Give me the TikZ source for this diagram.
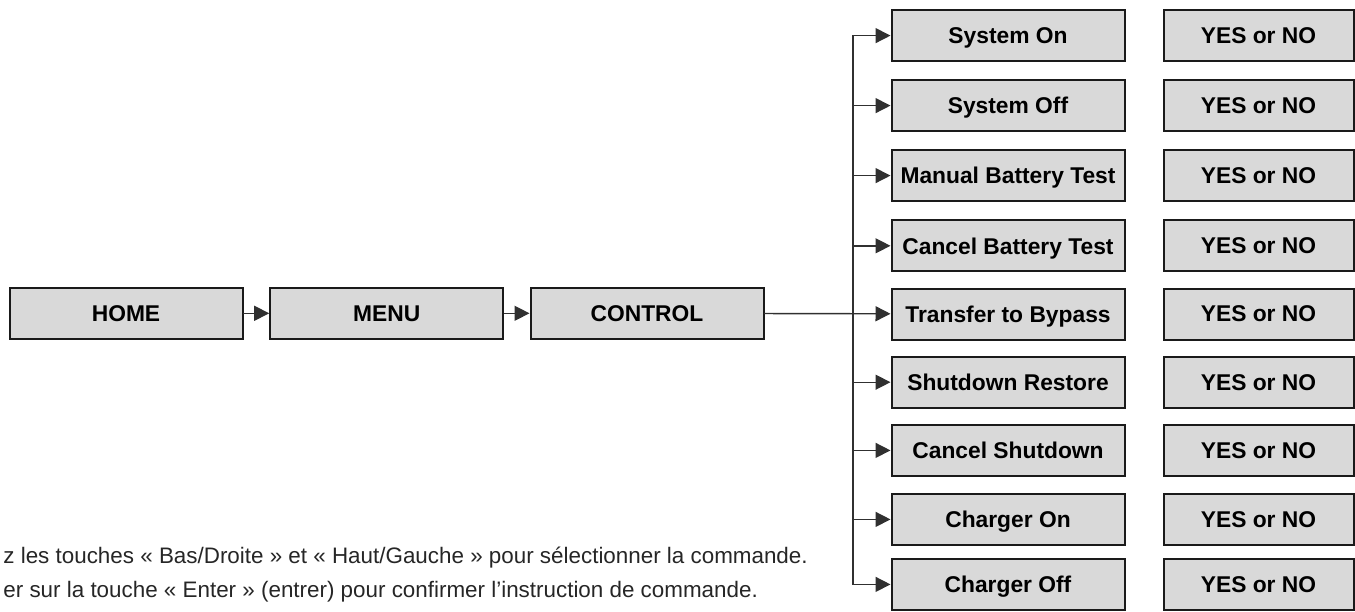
\documentclass[tikz,border=0pt]{standalone}
\usepackage{fontspec}
\setmainfont{Liberation Sans}
\usepackage{tikz}
\usetikzlibrary{arrows.meta, positioning}
\definecolor{boxgray}{HTML}{D9D9D9}
\definecolor{edgegray}{HTML}{1A1A1A}
\definecolor{wiregray}{HTML}{303030}
\tikzset{
  mbox/.style={rectangle, draw=edgegray, fill=boxgray, line width=1pt,
               minimum width=116.5pt, minimum height=25.5pt, inner sep=0pt,
               text depth=0pt, font=\fontsize{11.4}{13}\selectfont\bfseries},
  abox/.style={mbox, minimum width=95pt},
  note/.style={inner sep=0pt, font=\fontsize{11.2}{13}\selectfont, text=black!85},
  arr/.style={-{Triangle[length=7.5pt, width=7.5pt]}, line width=0.7pt,
              line cap=rect, draw=wiregray},
}

\begin{document}
\begin{tikzpicture}[x=0.5pt, y=-0.5pt]
  \useasboundingbox (0,0) rectangle (1355,611);
  \clip (0,0) rectangle (1355,611);
  % menu path
  \node[mbox] (home) at (126,313.3) {HOME};
  \node[mbox, right=12.85pt of home] (menu) {MENU};
  \node[mbox, right=12.65pt of menu] (ctrl) {CONTROL};
  \draw[arr] (home) -- (menu);
  \draw[arr] (menu) -- (ctrl);
  % control commands
  \node[mbox] (sysOn) at (1008,35.6) {System On};
  \node[mbox, below=8.5pt of sysOn] (sysOff) {System Off};
  \node[mbox, below=8.5pt of sysOff] (manTest) {Manual Battery Test};
  \node[mbox, below=8.6pt of manTest] (cancelTest) {Cancel Battery Test};
  \node[mbox, below=7.6pt of cancelTest] (bypass) {Transfer to Bypass};
  \node[mbox, below=7.6pt of bypass] (shutRestore) {Shutdown Restore};
  \node[mbox, below=7.6pt of shutRestore] (cancelShut) {Cancel Shutdown};
  \node[mbox, below=8pt of cancelShut] (chgOn) {Charger On};
  \node[mbox, below=6pt of chgOn] (chgOff) {Charger Off};
  % confirmations
  \node[abox, right=18.5pt of sysOn] (ans1) {YES or NO};
  \node[abox, right=18.5pt of sysOff] (ans2) {YES or NO};
  \node[abox, right=18.5pt of manTest] (ans3) {YES or NO};
  \node[abox, right=18.5pt of cancelTest] (ans4) {YES or NO};
  \node[abox, right=18.5pt of bypass] (ans5) {YES or NO};
  \node[abox, right=18.5pt of shutRestore] (ans6) {YES or NO};
  \node[abox, right=18.5pt of cancelShut] (ans7) {YES or NO};
  \node[abox, right=18.5pt of chgOn] (ans8) {YES or NO};
  \node[abox, right=18.5pt of chgOff] (ans9) {YES or NO};
  % branch
  \coordinate (bus) at (853,313.3);
  \draw[arr] (ctrl) -- (bypass);
  \draw[arr] (bus |- chgOff.west) |- (sysOn);
  \draw[arr] (bus |- sysOff.west) -- (sysOff);
  \draw[arr] (bus |- manTest.west) -- (manTest);
  \draw[arr] (bus |- cancelTest.west) -- (cancelTest);
  \draw[arr] (bus |- shutRestore.west) -- (shutRestore);
  \draw[arr] (bus |- cancelShut.west) -- (cancelShut);
  \draw[arr] (bus |- chgOn.west) -- (chgOn);
  \draw[arr] (bus |- chgOff.west) -- (chgOff);
  % notes
  \node[note, anchor=base west] (tip1) at (3,563)
    {z les touches « Bas/Droite » et « Haut/Gauche » pour sélectionner la commande.};
  \node[note, anchor=base west] (tip2) at (3,597)
    {er sur la touche « Enter » (entrer) pour confirmer l’instruction de commande.};
\end{tikzpicture}
\end{document}
